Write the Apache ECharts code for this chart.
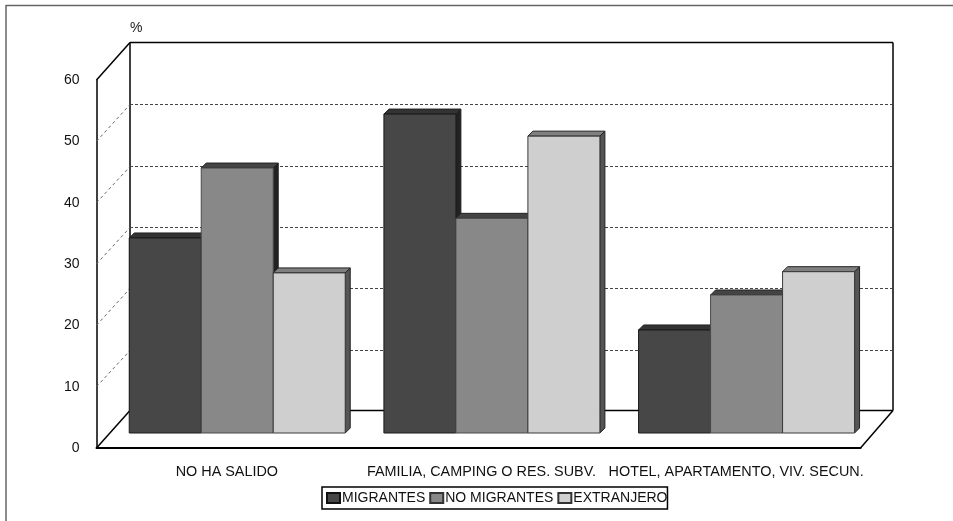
<!DOCTYPE html>
<html><head><meta charset="utf-8">
<style>html,body{margin:0;padding:0;background:#fff}#c{width:953px;height:521px}</style>
<script src="https://cdn.jsdelivr.net/npm/echarts@6/dist/echarts.min.js"></script>
</head><body><div id="c"></div>
<script>
var categories = ['NO HA SALIDO', 'FAMILIA, CAMPING O RES. SUBV.', 'HOTEL, APARTAMENTO, VIV. SECUN.'];
var migrantes = [31.8, 52, 16.8];
var noMigrantes = [43.2, 35, 22.5];
var extranjero = [26.1, 48.4, 26.3];
var yTicks = [0, 10, 20, 30, 40, 50, 60];
var seriesNames = ['MIGRANTES', 'NO MIGRANTES', 'EXTRANJERO'];

var FONT = '"Liberation Sans", Arial, sans-serif';
var WALL_DX = 33.5, WALL_DX_R = 32.5, WALL_DY = -37.5;   // depth of the box
var BAR_DX = 13.4, BAR_DY = -15;       // front plane of the bars
var SIDE = 5, BAR_W = 0.2827;
var looks = [
  {front:'#474747', top:'#333333', side:'#222222', stroke:'#1a1a1a'},
  {front:'#888888', top:'#444444', side:'#222222', stroke:'#4a4a4a'},
  {front:'#cfcfcf', top:'#808080', side:'#555555', stroke:'#3a3a3a'}
];
function line(x1,y1,x2,y2,stroke,w,dash){
  return {type:'line',shape:{x1:x1,y1:y1,x2:x2,y2:y2},style:{stroke:stroke,lineWidth:w,lineDash:dash||null,fill:null}};
}
function poly(pts,fill,stroke){
  return {type:'polygon',shape:{points:pts},style:{fill:fill,stroke:stroke,lineWidth:1}};
}
function barRender(seriesIndex){
  return function(params, api){
    var i = api.value(0), v = api.value(1);
    var top = api.coord([i, v]), base = api.coord([i, 0]);
    var w = api.size([1,0])[0] * BAR_W;
    var x0 = top[0] + BAR_DX + (seriesIndex - 1.5) * w;
    var x1 = x0 + w;
    var yT = top[1] + BAR_DY, yB = base[1] + BAR_DY;
    var c = looks[seriesIndex];
    return {type:'group',children:[
      poly([[x1,yB],[x1+SIDE,yB-SIDE],[x1+SIDE,yT-SIDE],[x1,yT]], c.side, '#222'),
      poly([[x0,yT],[x0+SIDE,yT-SIDE],[x1+SIDE,yT-SIDE],[x1,yT]], c.top, '#222'),
      poly([[x0,yT],[x1,yT],[x1,yB],[x0,yB]], c.front, c.stroke)
    ]};
  };
}
function gridRender(params, api){
  var v = api.value(0);
  var cs = params.coordSys;
  var p = api.coord([0, v]);
  var xf = cs.x, xb = cs.x + WALL_DX, xe = cs.x + cs.width + WALL_DX_R, y = p[1], yb = y + WALL_DY;
  var kids = [];
  if (v === 0 || v === 60) {
    kids.push(line(xf,y,xb,yb,'#000',1.5));
    kids.push(line(xb,yb,xe,yb,'#000',1.5));
  } else {
    var yc = Math.ceil(yb) + 0.5;
    kids.push(line(xf,y,xb,yc,'#666',1,[3,3]));
    kids.push(line(xb,yc,xe,yc,'#444',1,[3,2]));
  }
  return {type:'group',children:kids};
}
function wallRender(params, api){
  var cs = params.coordSys;
  var t = api.coord([0,60])[1], b = api.coord([0,0])[1];
  var xb = cs.x + WALL_DX, xe = cs.x + cs.width + WALL_DX_R;
  return {type:'group',children:[
    line(xb,t+WALL_DY,xb,b+WALL_DY,'#000',1.5),
    line(xe,t+WALL_DY,xe,b+WALL_DY,'#000',1.5),
    line(cs.x+cs.width,b,xe,b+WALL_DY,'#000',1.5)
  ]};
}
function toPairs(arr){ return arr.map(function(v,i){ return [i,v]; }); }
var chart = echarts.init(document.getElementById('c'), null, {renderer:'canvas'});
chart.setOption({
  animation:false,
  backgroundColor:'#fff',
  textStyle:{fontFamily:FONT},
  grid:{left:96.5,width:764,top:80,height:368,containLabel:false},
  xAxis:{type:'category',data:categories,
    axisLine:{show:true,lineStyle:{color:'#000',width:2}},
    axisTick:{show:false},splitLine:{show:false},
    axisLabel:{interval:0,hideOverlap:false,margin:17,fontSize:14.4,color:'#111',fontFamily:FONT,padding:[0,0,0,6]}},
  yAxis:{type:'value',min:0,max:60,interval:10,
    axisLine:{show:true,lineStyle:{color:'#000',width:1.5}},
    axisTick:{show:false},splitLine:{show:false},
    axisLabel:{margin:17,fontSize:14,color:'#111',fontFamily:FONT,
      formatter:function(v){return yTicks.indexOf(v)>=0?String(v):'';}}},
  legend:{show:true,left:322,top:487,orient:'horizontal',
    data:seriesNames.map(function(n){return {name:n,icon:'rect'};}),
    itemWidth:13,itemHeight:10,itemGap:4,
    padding:[4,0,4,4],
    borderColor:'#000',borderWidth:1.5,backgroundColor:'#fff',
    selectedMode:false,
    textStyle:{fontSize:14,color:'#111',fontFamily:FONT,padding:[0,0,0,-3]}},
  graphic:[
    {type:'line',shape:{x1:6,y1:5.5,x2:953,y2:5.5},style:{stroke:'#666',lineWidth:1.5},silent:true},
    {type:'line',shape:{x1:6,y1:5,x2:6,y2:521},style:{stroke:'#666',lineWidth:1.5},silent:true},
    {type:'text',left:130,top:21,style:{text:'%',fontSize:14,fill:'#222',fontFamily:FONT},silent:true}
  ],
  series:[
    {type:'custom',name:'walls',silent:true,renderItem:wallRender,data:[[0]],z:1},
    {type:'custom',name:'grid',silent:true,renderItem:gridRender,data:yTicks.map(function(v){return [v];}),encode:{x:-1,y:-1},z:1},
    {type:'custom',name:seriesNames[0],renderItem:barRender(0),data:toPairs(migrantes),encode:{x:0,y:1},z:2,itemStyle:{color:looks[0].front,borderColor:'#111',borderWidth:1}},
    {type:'custom',name:seriesNames[1],renderItem:barRender(1),data:toPairs(noMigrantes),encode:{x:0,y:1},z:3,itemStyle:{color:looks[1].front,borderColor:'#333',borderWidth:1}},
    {type:'custom',name:seriesNames[2],renderItem:barRender(2),data:toPairs(extranjero),encode:{x:0,y:1},z:4,itemStyle:{color:looks[2].front,borderColor:'#333',borderWidth:1}}
  ]
});
</script></body></html>
